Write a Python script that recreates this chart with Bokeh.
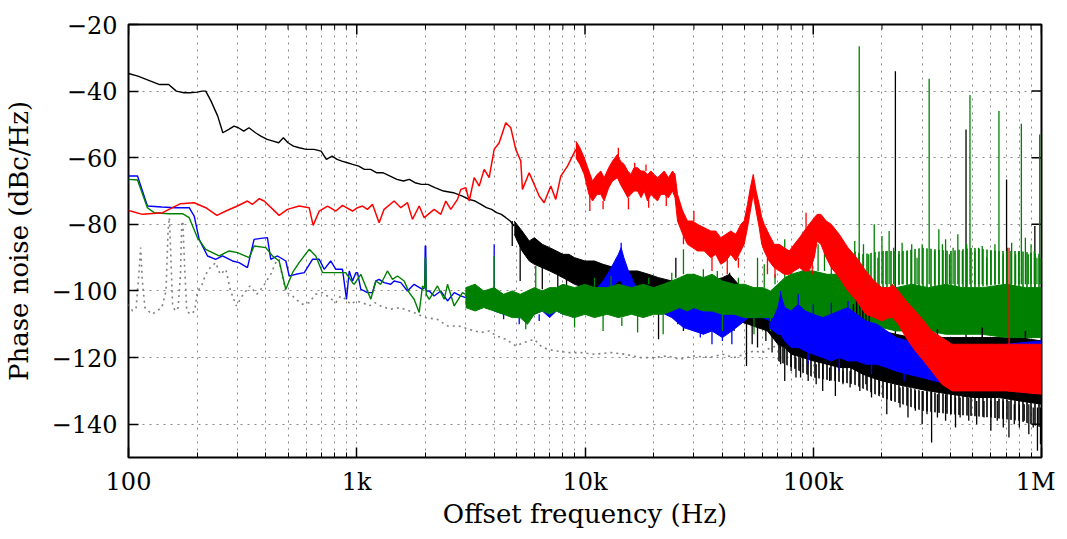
import math
from bokeh.plotting import figure
from bokeh.models import FixedTicker, CustomJSTickFormatter
from bokeh.embed import file_html
from bokeh.resources import INLINE

# ---------------- data ----------------
x_start, x_end = 100, 1e6
y_start, y_end = -150, -20
x_major = [100, 1000, 10000, 100000, 1000000]
x_minor = [m * d for d in (100, 1000, 10000, 100000) for m in range(2, 10)]
y_major = [-140, -120, -100, -80, -60, -40, -20]

# gray dotted reference trace
gray_f = [100, 104, 108, 111, 113, 115, 118, 122, 127, 133, 140, 146, 149, 151, 153, 156, 160, 165, 169, 171,
          173, 176, 180, 187, 195, 200, 210, 218, 228, 241, 252, 267, 280, 297, 318, 340, 365, 390, 420, 445,
          457, 470, 489, 515, 541, 580, 619, 660, 708, 760, 810, 850, 895, 940, 991, 1060, 1134, 1200, 1274,
          1400, 1550, 1784, 2000, 2250, 2498, 2800, 3100, 3496, 3800, 4100, 4500, 4973, 5400, 5989, 6400,
          6850, 7500, 8500, 9585, 11000, 13000, 15000, 17500, 20000, 23000, 26000, 30000, 35000, 40000,
          45000, 50000, 55000, 60000, 65000, 70000, 75000]
gray_db = [-104, -106, -105, -95, -87, -97, -105, -106, -107, -106, -105, -100, -82, -78, -88, -104, -106, -105,
           -95, -80, -79, -92, -106, -107, -106, -100.5, -98, -95, -93, -91.5, -95, -93.5, -100, -104.5, -101,
           -98.5, -101, -98.5, -95, -91, -90.5, -95, -100.5, -101, -102.5, -104, -103.5, -101, -100.5, -102,
           -103.5, -101.5, -102.5, -104, -103, -103.5, -104.5, -103.5, -104.5, -105.5, -105, -106.5, -108,
           -108.5, -110.5, -110.5, -111.5, -112.5, -112, -113.5, -114.5, -116.5, -115.5, -114.5, -116.5,
           -117.5, -118, -118.5, -118.5, -119, -118.5, -119, -120, -120, -119.5, -120.5, -119.5, -120, -119,
           -120, -119, -118, -118.5, -117, -116.5, -118]

# ---- black trace ----
black_f = [100, 110, 125, 136, 150, 162, 175, 186, 200, 210, 218, 230, 246, 259, 275, 290, 303, 320, 337, 360,
           380, 405, 430, 455, 477, 500, 528, 560, 600, 650, 698, 736, 780, 820, 861, 910, 960, 1020, 1080,
           1150, 1219, 1300, 1400, 1500, 1600, 1700, 1800, 1920, 2051, 2200, 2400, 2650, 2903, 3100, 3300,
           3500, 3700, 3900, 4100, 4300, 4500, 4700, 4900]
black_db = [-34.7, -35.5, -37, -38, -38, -40, -40.5, -40.5, -40.3, -40, -40, -43, -47.5, -52.5, -51.5, -50.5,
            -51, -52, -51, -52.5, -53.5, -54.5, -55, -55.5, -54, -55.5, -56.5, -57, -57.5, -57.5, -58, -60.5,
            -59.5, -60.5, -61, -61.5, -62, -62.5, -63.5, -63.5, -64.5, -64.5, -65.5, -66.5, -67, -66.5, -67.5,
            -68, -68, -69, -70, -70.5, -71.5, -72.5, -73, -74, -75, -75.5, -76.5, -77, -78, -79, -80.5]
black_band_f = [4900, 5300, 5700, 6000, 6500, 7000, 7500, 8000, 8500, 9000, 10000, 11000, 12000, 13500, 15000,
                17000, 19000, 21000, 24000, 28000, 32000, 36000, 40000, 43000, 47000, 52000, 57000, 63000, 70000,
                75000, 80000, 90000, 100000, 115000, 130000, 145000, 155000, 165000, 180000, 200000, 230000,
                270000, 320000, 400000, 500000, 650000, 800000, 1000000]
black_band_hi = [-79, -82, -85, -84, -86, -87, -88, -89, -89, -90, -91, -91, -92, -93, -94, -94, -95, -96, -97,
                 -98, -98, -97, -96, -95, -98, -100, -103, -104, -108, -110, -112, -113, -114, -114, -113, -108,
                 -103, -104, -108, -112, -113, -114, -114, -114, -114, -114, -114, -115]
black_band_lo = [-83, -88, -91, -92, -93, -94, -95, -96, -97, -98, -99, -100, -100, -101, -101, -102, -102,
                 -103, -105, -106, -107, -108, -108, -108, -109, -110, -111, -112, -116, -117, -119, -120, -121,
                 -122, -123, -123, -124, -125, -126, -127, -128, -129, -130, -131, -132, -132, -133, -134]
black_sparse_f = [70000, 100000, 150000, 200000, 300000, 400000, 600000, 800000, 1000000]
black_sparse_hi = [-116, -121, -123, -127, -130, -131, -132, -133, -134]
black_sparse_lo = [-121, -126, -128, -132, -136, -137, -138, -139, -141]
black_spike_f = [4800, 5200, 6500, 7600, 8300, 9500, 11500, 14000, 18000, 21000, 25000, 25500, 27000, 30000,
                 33000, 38000, 43000, 45000, 51000, 54000, 57000, 62000, 66000, 72000, 75000, 80000, 84000,
                 88000, 95000, 103000, 110000, 118000, 125000, 135000, 145000, 160000, 170000, 180000,
                 195000, 210000, 220000, 229000, 240000, 260000, 280000, 300000, 315000, 330000, 350000,
                 380000, 400000, 420000, 440000, 467000, 480000, 520000, 560000, 600000, 640000, 680000,
                 703000, 720000, 760000, 800000, 840000, 880000, 920000, 935000, 960000, 990000]
black_spike_from = [-79, -84, -90, -95, -96, -98, -99, -100, -101, -102, -96, -104, -105, -106, -106, -107,
                    -96, -108, -109, -110, -110, -111, -112, -115, -117, -119, -120, -120, -121, -122, -122,
                    -123, -123, -124, -124, -124, -125, -126, -127, -127, -128, -113, -129, -129, -130,
                    -130, -130, -130, -131, -131, -131, -132, -132, -114, -132, -133, -133, -133,
                    -133, -133, -114, -133, -134, -134, -134, -134, -135, -114, -135, -135]
black_spike_to = [-86.5, -97, -99.5, -102, -104, -103, -104, -105, -106, -114.5, -90, -110, -112, -109, -113,
                  -111, -94.5, -112, -122.5, -116, -117, -115, -118.5, -122, -127, -124, -126, -126, -127, -128,
                  -130, -127, -131.5, -128, -129, -130, -128, -132, -131, -137, -133, -34, -135, -138,
                  -136, -140, -137, -145.5, -138, -139, -137, -141, -138, -51.5, -139, -140, -138,
                  -142, -139, -141, -66.5, -144, -140, -141, -139, -143, -141, -80.5, -148, -146]
black_top_f = [150000, 155000, 160000, 165000, 170000, 176000, 350000, 550000, 850000]
black_top_from = [-110, -110, -110, -111, -111, -112, -116, -116, -116]
black_top_to = [-104, -101, -103, -105, -104, -107, -111.5, -111, -112]

# ---- blue trace ----
blue_f = [100, 109.5, 121, 140, 160, 184.5, 194, 204, 222, 241, 258, 285.5, 305, 332, 355, 380, 406, 420, 449.5,
          489, 506, 541, 589, 640, 685, 720, 769, 810, 866, 902, 927, 958, 991, 1008, 1042, 1078, 1114, 1172,
          1212, 1253, 1318, 1409, 1458, 1560, 1668, 1784, 1941, 1985, 1995, 2005, 2015, 2077, 2183, 2334, 2498,
          2673, 2857, 3000]
blue_db = [-65.5, -65.5, -74.5, -74.8, -75, -75, -77.5, -84.5, -89.5, -90.5, -89.5, -91, -91.5, -93, -84.5,
           -84.2, -84, -90.5, -89.5, -91, -95.5, -95, -94.5, -90.5, -90.5, -93.5, -91, -93.5, -93.5, -102.5, -94,
           -97, -94.5, -94.5, -99.5, -100, -100.5, -100.5, -97, -96.5, -97.5, -98, -97, -97.5, -100, -98, -99.5,
           -99, -86.5, -86.5, -100, -100, -101.5, -100, -103, -100.5, -101.5, -102]
blue_low_f = [3000, 3300, 3600, 4000, 4400, 4800, 5200, 5600, 6000, 6500, 7000, 7500, 8000, 9000, 10000, 11000,
              12000, 12800, 13500, 14000, 14400, 14800, 15500, 16500, 17500, 19000, 21000, 24000, 27000, 30000,
              33000, 36000, 40000, 44000, 48000, 52000, 56000, 60000, 65000, 70000]
blue_low_hi = [-100, -101, -100, -101, -102, -101, -103, -102, -101, -102, -101, -102, -101, -100, -100, -100,
               -97, -94, -91, -89, -87, -90, -94, -98, -100, -102, -103, -103, -104, -102, -101, -102, -102, -103,
               -104, -104, -105, -106, -106, -104]
blue_low_lo = [-104, -105, -104, -106, -107, -105, -108, -106, -107, -106, -108, -106, -107, -106, -105, -105,
               -103, -100, -98, -97, -97, -99, -102, -104, -105, -106, -106, -108, -111, -112, -113, -112, -114,
               -112, -110, -108, -108, -108, -109, -112]
blue_low_spike_f = [4000, 4400, 5150, 6300, 8800, 14400, 32000, 36000, 40000, 44000]
blue_low_spike_from = [-101, -107, -108, -107, -106, -88, -112, -112, -113, -112]
blue_low_spike_to = [-86, -108.5, -110, -109, -108, -85.5, -114, -116, -115, -116]
blue_band_f = [64000, 67000, 70000, 72000, 75000, 80000, 86000, 92000, 100000, 110000, 120000, 130000, 142000,
               155000, 170000, 190000, 210000, 230000, 260000, 300000, 340000, 400000, 500000, 700000, 1000000]
blue_band_hi = [-110, -108, -105, -101, -105, -106, -104, -106, -107, -108, -107, -106, -105, -107, -109, -110,
                -112, -114, -115, -116, -117, -117, -117, -116, -115]
blue_band_lo = [-111, -112, -113, -113, -115, -117, -117, -118, -119, -120, -121, -120, -121, -121, -122, -122,
                -123, -124, -125, -126, -127, -128, -128, -127, -126]
blue_spike_f = [72000, 86000, 95000, 100000, 120000, 130000, 142000, 180000, 250000]
blue_spike_from = [-102, -104, -118, -107, -107, -120, -105, -122, -124]
blue_spike_to = [-100, -101, -122, -104, -103.5, -124, -103, -125, -127]

# ---- green trace ----
green_f = [100, 109.5, 121, 129.6, 150, 172.4, 184.5, 200.5, 218, 249.5, 276, 300, 338, 355, 399.5, 427.6, 457,
           489, 523, 559, 619, 661.5, 708, 810, 895, 958, 974, 1042, 1100, 1152, 1212, 1274, 1363, 1434, 1508,
           1614, 1697, 1784, 1877, 1941, 1985, 1995, 2005, 2015, 2077, 2258, 2416, 2498, 2673, 2906, 3000]
green_db = [-66.5, -66.7, -75, -76.5, -76.8, -76.8, -78, -84, -87.5, -89.5, -88, -88.5, -90, -86.5, -87, -89.5,
            -91, -99.5, -94.5, -91.5, -87.5, -89.5, -94.5, -94.5, -94.5, -97.5, -98, -95, -99, -102.5, -97, -98,
            -94, -96.5, -95.5, -97, -100.5, -102.5, -106.5, -98.5, -99, -90, -90, -101, -102.5, -98.5, -102.5,
            -98, -104.5, -100.5, -101]
green_band_f = [3000, 3300, 3600, 4000, 4400, 4800, 5200, 5600, 6000, 6500, 7000, 7500, 8000, 9000, 10000,
                11000, 12500, 14000, 16000, 18000, 20000, 22000, 24000, 26000, 28000, 30000, 33000, 36000,
                40000, 45000, 50000, 55000, 60000, 65000, 70000, 75000, 80000, 90000, 100000, 115000, 130000,
                145000, 155000, 165000, 180000, 200000, 230000, 270000, 320000, 380000, 450000, 550000, 700000,
                850000, 1000000]
green_band_hi = [-99, -98, -100, -99, -101, -100, -101, -100, -99, -100, -99, -99, -98, -99, -98, -99, -99, -98,
                 -99, -98, -99, -98, -97, -96, -95, -95, -96, -95, -97, -98, -98, -99, -99, -100, -98, -96, -95,
                 -94, -94, -95, -95, -94, -92, -96, -98, -99, -99, -98, -99, -98, -99, -99, -98, -99, -99]
green_band_lo = [-105, -106, -105, -106, -107, -108, -108, -110, -107, -106, -107, -106, -107, -108, -107, -108,
                 -107, -108, -107, -108, -107, -107, -106, -105, -106, -105, -106, -106, -107, -107, -108, -108,
                 -108, -108, -108, -107, -106, -107, -108, -109, -110, -109, -108, -110, -111, -111, -112, -112,
                 -112, -113, -113, -113, -114, -114, -114]
green_sparse_f = [150000, 165000, 200000, 250000, 300000, 400000, 500000, 650000, 800000, 1000000]
green_sparse_hi = [-88, -89, -88, -88, -87, -88, -87, -88, -88, -89]
green_sparse_lo = [-96, -97, -99, -98, -99, -99, -99, -98, -99, -99]
green_spike_f = [4000, 5500, 6085, 9000, 11000, 12000, 13000, 14500, 17000, 19000, 22000, 24000, 27000, 33000,
                 38000, 40000, 47000, 55000, 57000, 61000, 65000, 68000, 75000, 80000, 90000, 95000, 105000,
                 112000, 120000, 127000, 135000, 145000, 152000, 159000, 166000, 175000, 185000, 192000, 200000,
                 208000, 215000, 225000, 237000, 245000, 258000, 270000, 285000, 300000, 322000, 340000, 355000,
                 368000, 380000, 395000, 410000, 430000, 450000, 470000, 486000, 510000, 530000, 550000, 575000,
                 600000, 625000, 651000, 680000, 710000, 740000, 770000, 795000, 816000, 850000, 875000, 900000,
                 930000, 955000, 982000, 995000]
green_spike_from = [-99, -108, -100, -107, -99, -107, -99, -108, -107, -98, -107, -97, -95, -96, -96, -107, -98,
                    -108, -99, -99, -108, -98, -96, -95, -94, -94, -94, -94, -95, -95, -95, -94, -93, -91, -95,
                    -96, -98, -98, -98, -98, -98, -98, -98, -98, -98, -98, -98, -98, -98, -98, -98, -98, -98,
                    -98, -98, -98, -98, -98, -98, -98, -98, -98, -98, -98, -98, -98, -98, -98, -98, -98, -98,
                    -98, -98, -98, -98, -98, -98, -98, -98]
green_spike_to = [-89.5, -111.5, -92.5, -111, -96, -112, -95.5, -110.5, -112.5, -96, -113, -94.5, -87.5, -93.5,
                  -94, -112, -96, -113, -90, -92, -112, -95, -84.5, -90, -86, -87, -86, -88, -85, -89, -86, -88,
                  -85, -26.5, -86, -89, -80, -90, -83.5, -88, -82, -87, -89, -85.5, -88, -86, -90, -86, -36.3,
                  -88, -81.5, -86, -84.5, -89, -87, -83, -88, -86, -41.2, -88, -87, -86.5, -90, -88, -86, -46,
                  -89, -87, -85.5, -89, -88, -49.8, -84, -89, -86, -88, -90, -53, -90]

# ---- red trace ----
red_f = [100, 102, 115, 141, 169, 194, 218, 244, 267, 300, 332, 349, 374, 393, 457, 497, 559, 619, 644, 685, 745,
         810, 866, 958, 1008, 1060, 1114, 1172, 1253, 1318, 1458, 1560, 1668, 1754, 1877, 1974, 2183, 2334, 2455,
         2582, 2763, 2857, 3006, 3110, 3270, 3440, 3617, 3803, 4000, 4207, 4497, 4729, 4973, 5231, 5321, 5694,
         5989, 6298, 6622, 7080, 7446, 7831, 8380, 9114]
red_db = [-76, -76, -77, -76.5, -73.8, -73.5, -75, -77.3, -76, -74.5, -73, -74, -72.3, -73, -77.3, -75.5, -74.5,
          -75, -80.3, -76, -74.5, -76, -74.3, -76, -75, -74.5, -75.5, -74, -79.5, -75.5, -73, -75, -73.5, -78.5,
          -74.5, -78, -75.5, -77, -73, -75.5, -72.5, -69.5, -69, -73, -66, -68.5, -63.5, -66, -57.5, -55.5,
          -49.5, -51, -57.5, -61, -69.5, -64.5, -68, -71.5, -73.5, -68.5, -72.5, -65.5, -62.5, -57.5]
red_band_f = [9114, 9500, 9920, 10400, 10790, 11300, 11730, 12130, 12700, 13200, 13870, 14300, 14850, 15400,
              15880, 16400, 16990, 17600, 18170, 18800, 19430, 20100, 20780, 21500, 22230, 23200, 24180, 24800,
              25430, 26800, 28130, 29600, 31110, 33300, 35590, 37400, 39360, 41400, 43530, 45800, 48150, 49800,
              51520, 53000, 54580, 56200, 57980, 59500, 60980, 64000, 67450, 71000, 74600, 78500, 82550, 87000,
              91300, 96000, 101000, 104000, 108000, 114000, 120000, 130000, 142000, 155000, 170000, 185000,
              200000, 215000, 222000, 236000, 255000, 280000, 305000, 330000, 366000, 406000, 500000, 700000,
              1000000]
red_band_hi = [-55, -57, -60, -64, -67, -65, -64, -66, -63, -61, -59, -61, -62, -64, -65, -63, -63, -64, -64, -65,
               -64, -65, -66, -65, -64, -66, -64, -65, -71, -76, -79, -79, -80, -81, -82, -82, -84, -83, -82, -83,
               -80, -79, -74, -69, -65, -70, -74, -78, -80, -83, -86, -86, -87, -88, -86, -84, -82, -80, -78, -77,
               -77, -79, -80, -83, -87, -90, -94, -97, -99, -99, -98, -100, -103, -106, -109, -112, -114, -116,
               -116, -116, -116]
red_band_lo = [-60, -62, -65, -71, -73, -71, -71, -73, -69, -67, -66, -68, -70, -72, -71, -70, -70, -72, -70, -73,
               -71, -72, -73, -71, -71, -72, -70, -72, -79, -83, -86, -87, -88, -88, -90, -89, -92, -91, -89, -91,
               -88, -86, -81, -76, -71, -76, -81, -86, -88, -91, -93, -94, -95, -95, -94, -93, -94, -94, -90, -85,
               -86, -90, -93, -96, -100, -103, -107, -108, -109, -108, -108, -110, -114, -118, -121, -124, -128,
               -130, -130, -130, -131]
red_spike_f = [10500, 12000, 14000, 15500, 16500, 18500, 19000, 22700, 27000, 30000, 36000, 42000, 47000, 63000,
               68000, 93000, 99000, 721000]
red_spike_from = [-71, -73, -60, -72, -63, -64, -72, -71, -83, -79, -89, -90, -90, -90, -93, -82, -90, -116]
red_spike_to = [-76, -75.5, -57, -75.5, -61.5, -62, -75, -74.5, -86, -76, -94, -95, -93, -95, -96, -76.5, -95, -87]

# ---------------- figure ----------------
FONT = "DejaVu Serif"
p = figure(frame_width=913, frame_height=433, x_axis_type="log",
           x_range=(x_start, x_end), y_range=(y_start, y_end),
           output_backend="svg", toolbar_location=None,
           min_border_left=123, min_border_right=14, min_border_top=24, min_border_bottom=75)
p.background_fill_color = "white"
p.border_fill_color = "white"
p.outline_line_color = "black"
p.outline_line_width = 2

xt = FixedTicker(ticks=x_major, minor_ticks=x_minor)
yt = FixedTicker(ticks=y_major)

xfmt = CustomJSTickFormatter(code="""
const m = {2: "100", 3: "1k", 4: "10k", 5: "100k", 6: "1M"};
return m[Math.round(Math.log10(tick))] || "";
""")
yfmt = CustomJSTickFormatter(code="""
return tick < 0 ? "\\u2212" + Math.abs(tick) : String(tick);
""")

def style_axis(ax):
    ax.axis_line_color = None
    ax.major_tick_in = 10
    ax.major_tick_out = 0
    ax.minor_tick_in = 5
    ax.minor_tick_out = 0
    ax.major_tick_line_color = "black"
    ax.major_tick_line_width = 1.5
    ax.minor_tick_line_color = "black"
    ax.minor_tick_line_width = 1
    ax.major_label_text_font = FONT
    ax.major_label_text_font_size = "24px"
    ax.major_label_text_color = "black"
    ax.axis_label_text_font = FONT
    ax.axis_label_text_font_size = "26px"
    ax.axis_label_text_font_style = "normal"
    ax.axis_label_text_color = "black"

xa = p.xaxis[0]
xa.ticker = xt
xa.formatter = xfmt
xa.axis_label = "Offset frequency (Hz)"
style_axis(xa)
xa.major_label_standoff = 10
xa.axis_label_standoff = 0

ya = p.yaxis[0]
ya.ticker = yt
ya.formatter = yfmt
ya.axis_label = "Phase noise (dBc/Hz)"
style_axis(ya)
ya.minor_tick_line_color = None
ya.major_label_standoff = 11
ya.axis_label_standoff = 15

for g in (p.xgrid[0], p.ygrid[0]):
    g.grid_line_color = "#8a8a8a"
    g.grid_line_dash = "2 5"
    g.grid_line_width = 1
p.xgrid[0].minor_grid_line_color = "#8a8a8a"
p.xgrid[0].minor_grid_line_dash = "2 5"
p.xgrid[0].minor_grid_line_width = 1

# top and right inward ticks (mirroring the bottom / left axes)
p.ray(x=x_major, y=[y_end] * len(x_major), length=10, angle=-math.pi / 2, length_units="screen",
      line_color="black", line_width=1.5)
p.ray(x=x_minor, y=[y_end] * len(x_minor), length=5, angle=-math.pi / 2, length_units="screen",
      line_color="black", line_width=1)
p.ray(x=[x_end] * len(y_major), y=y_major, length=10, angle=math.pi, length_units="screen",
      line_color="black", line_width=1.5)

LW = 1.4

def band(color, f, hi, lo, sf=None, s0=None, s1=None):
    p.varea(x=f, y1=lo, y2=hi, fill_color=color)
    p.line(f, hi, line_color=color, line_width=1)
    p.line(f, lo, line_color=color, line_width=1)
    if sf:
        p.segment(x0=sf, y0=s0, x1=sf, y1=s1, line_color=color, line_width=1.3)

def sparse(color, f, hi, lo):
    # noisy, partly transparent zone at the edge of a trace: dense vertical strokes
    p.varea(x=f, y1=lo, y2=hi, fill_color=None, hatch_pattern="vertical_line",
            hatch_color=color, hatch_scale=4, hatch_weight=1.6)

BLACK, BLUE, GREEN, RED = "#000000", "#0000ff", "#008000", "#ff0000"

# draw order
p.line(gray_f, gray_db, line_color="#808080", line_dash="2 4", line_width=1.6)

sparse(BLACK, black_sparse_f, black_sparse_hi, black_sparse_lo)
band(BLACK, black_band_f, black_band_hi, black_band_lo, black_spike_f, black_spike_from, black_spike_to)
p.line(black_f, black_db, line_color=BLACK, line_width=LW)

p.line(blue_f, blue_db, line_color=BLUE, line_width=LW)
band(BLUE, blue_low_f, blue_low_hi, blue_low_lo, blue_low_spike_f, blue_low_spike_from, blue_low_spike_to)

sparse(GREEN, green_sparse_f, green_sparse_hi, green_sparse_lo)
band(GREEN, green_band_f, green_band_hi, green_band_lo, green_spike_f, green_spike_from, green_spike_to)
p.line(green_f, green_db, line_color=GREEN, line_width=LW)

p.segment(x0=black_top_f, y0=black_top_from, x1=black_top_f, y1=black_top_to, line_color=BLACK, line_width=1.5)

band(BLUE, blue_band_f, blue_band_hi, blue_band_lo, blue_spike_f, blue_spike_from, blue_spike_to)

band(RED, red_band_f, red_band_hi, red_band_lo, red_spike_f, red_spike_from, red_spike_to)
p.line(red_f, red_db, line_color=RED, line_width=1.5)

open("out.html", "w").write(file_html(p, INLINE))
